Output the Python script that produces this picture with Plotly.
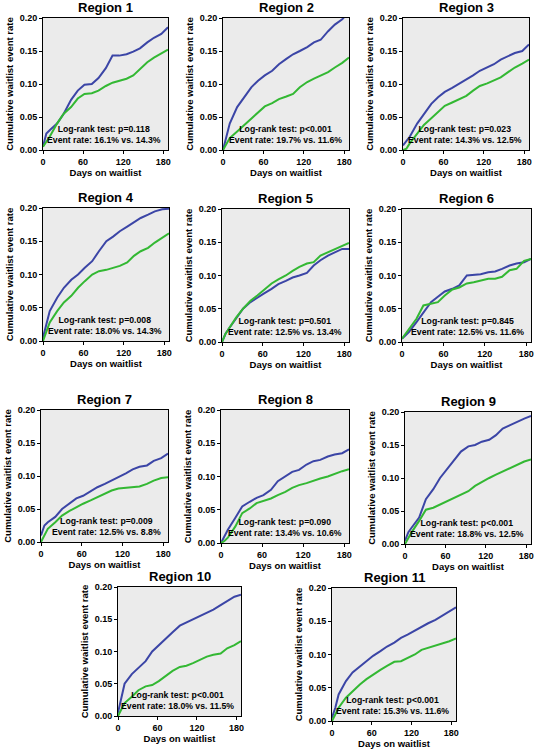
import plotly.graph_objects as go

DAYS = [0, 5, 10, 21, 31, 42, 52, 62, 73, 83, 94, 104, 114, 125, 135, 145, 156, 166, 177, 187]

REGIONS = ["Region 1", "Region 2", "Region 3", "Region 4", "Region 5", "Region 6",
           "Region 7", "Region 8", "Region 9", "Region 10", "Region 11"]

BLUE = [
    [0.005, 0.025, 0.030, 0.040, 0.055, 0.076, 0.090, 0.099, 0.100, 0.109, 0.124, 0.143, 0.143, 0.145, 0.149, 0.154, 0.163, 0.170, 0.176, 0.186],
    [0.000, 0.020, 0.040, 0.065, 0.080, 0.095, 0.105, 0.113, 0.120, 0.130, 0.138, 0.145, 0.150, 0.156, 0.163, 0.167, 0.180, 0.190, 0.198, 0.210],
    [0.007, 0.013, 0.020, 0.040, 0.055, 0.070, 0.080, 0.088, 0.094, 0.100, 0.107, 0.113, 0.120, 0.125, 0.130, 0.137, 0.142, 0.147, 0.150, 0.160],
    [0.005, 0.025, 0.045, 0.065, 0.080, 0.092, 0.100, 0.110, 0.120, 0.135, 0.150, 0.157, 0.165, 0.172, 0.178, 0.185, 0.190, 0.195, 0.198, 0.199],
    [0.000, 0.012, 0.020, 0.035, 0.050, 0.060, 0.067, 0.073, 0.080, 0.087, 0.092, 0.097, 0.100, 0.104, 0.115, 0.123, 0.130, 0.135, 0.140, 0.140],
    [0.005, 0.010, 0.015, 0.030, 0.045, 0.060, 0.068, 0.076, 0.080, 0.085, 0.100, 0.101, 0.102, 0.105, 0.106, 0.110, 0.115, 0.118, 0.120, 0.125],
    [0.010, 0.025, 0.030, 0.038, 0.050, 0.058, 0.066, 0.070, 0.077, 0.083, 0.088, 0.093, 0.098, 0.104, 0.110, 0.114, 0.116, 0.123, 0.127, 0.134],
    [0.000, 0.010, 0.020, 0.038, 0.055, 0.062, 0.068, 0.072, 0.080, 0.093, 0.100, 0.107, 0.110, 0.118, 0.123, 0.125, 0.130, 0.133, 0.135, 0.141],
    [0.005, 0.018, 0.025, 0.040, 0.068, 0.083, 0.100, 0.113, 0.127, 0.140, 0.148, 0.150, 0.155, 0.158, 0.165, 0.175, 0.180, 0.185, 0.190, 0.194],
    [0.005, 0.030, 0.050, 0.065, 0.075, 0.085, 0.100, 0.110, 0.120, 0.130, 0.140, 0.145, 0.150, 0.155, 0.160, 0.165, 0.172, 0.178, 0.185, 0.188],
    [0.005, 0.020, 0.040, 0.060, 0.073, 0.082, 0.090, 0.098, 0.105, 0.112, 0.118, 0.125, 0.130, 0.136, 0.142, 0.147, 0.152, 0.158, 0.165, 0.171],
]

GREEN = [
    [0.005, 0.012, 0.020, 0.040, 0.055, 0.065, 0.078, 0.085, 0.086, 0.090, 0.097, 0.102, 0.105, 0.108, 0.113, 0.122, 0.133, 0.140, 0.146, 0.152],
    [0.000, 0.010, 0.018, 0.028, 0.037, 0.048, 0.057, 0.066, 0.071, 0.077, 0.081, 0.085, 0.095, 0.103, 0.108, 0.113, 0.118, 0.125, 0.132, 0.140],
    [0.000, 0.002, 0.010, 0.025, 0.038, 0.048, 0.058, 0.067, 0.072, 0.077, 0.082, 0.090, 0.097, 0.101, 0.105, 0.110, 0.118, 0.125, 0.131, 0.137],
    [0.000, 0.015, 0.028, 0.045, 0.058, 0.068, 0.080, 0.090, 0.100, 0.105, 0.107, 0.110, 0.113, 0.118, 0.128, 0.135, 0.140, 0.148, 0.155, 0.162],
    [0.000, 0.012, 0.020, 0.037, 0.050, 0.062, 0.070, 0.078, 0.088, 0.094, 0.100, 0.107, 0.113, 0.118, 0.120, 0.130, 0.135, 0.140, 0.145, 0.149],
    [0.005, 0.012, 0.020, 0.035, 0.055, 0.058, 0.060, 0.070, 0.079, 0.082, 0.088, 0.090, 0.092, 0.095, 0.095, 0.098, 0.108, 0.110, 0.122, 0.125],
    [0.000, 0.010, 0.020, 0.030, 0.040, 0.047, 0.053, 0.058, 0.063, 0.068, 0.073, 0.078, 0.081, 0.082, 0.082, 0.084, 0.088, 0.093, 0.097, 0.098],
    [0.000, 0.003, 0.008, 0.025, 0.045, 0.052, 0.060, 0.063, 0.067, 0.072, 0.077, 0.083, 0.087, 0.090, 0.094, 0.097, 0.100, 0.104, 0.108, 0.111],
    [0.000, 0.010, 0.018, 0.035, 0.052, 0.055, 0.060, 0.065, 0.070, 0.075, 0.080, 0.088, 0.094, 0.100, 0.105, 0.110, 0.115, 0.120, 0.125, 0.128],
    [0.000, 0.010, 0.020, 0.030, 0.040, 0.046, 0.048, 0.054, 0.062, 0.070, 0.076, 0.078, 0.082, 0.087, 0.092, 0.095, 0.097, 0.105, 0.110, 0.116],
    [0.000, 0.010, 0.020, 0.035, 0.045, 0.055, 0.063, 0.070, 0.077, 0.083, 0.089, 0.090, 0.095, 0.100, 0.107, 0.110, 0.113, 0.117, 0.120, 0.124],
]

PVALUES = ["p=0.118", "p<0.001", "p=0.023", "p=0.008", "p=0.501", "p=0.845",
           "p=0.009", "p=0.090", "p<0.001", "p<0.001", "p<0.001"]
RATES = [("16.1%", "14.3%"), ("19.7%", "11.6%"), ("14.3%", "12.5%"), ("18.0%", "14.3%"),
         ("12.5%", "13.4%"), ("12.5%", "11.6%"), ("12.5%", "8.8%"), ("13.4%", "10.6%"),
         ("18.8%", "12.5%"), ("18.0%", "11.5%"), ("15.3%", "11.6%")]

X_TICKS = [0, 60, 120, 180]
Y_TICKS = [0.00, 0.05, 0.10, 0.15, 0.20]

# panel boxes in page pixels: left, right, top, bottom
BOXES = [
    (43, 168, 18, 150), (223, 349, 18, 150), (403, 529, 18, 150),
    (43, 169, 208, 341), (222, 349, 209, 342), (402, 531, 209, 342),
    (41, 168, 410, 542), (221, 349, 410, 543), (405, 531, 412, 544),
    (118, 241, 587, 716), (332, 456, 588, 721),
]

W, H = 537, 750
BLUE_C = "#3B45A6"
GREEN_C = "#33B833"
FONT = "Liberation Sans, Arial, sans-serif"

fig = go.Figure()
layout = {}
annotations = []
for i, name in enumerate(REGIONS):
    k = i + 1
    xs = "" if k == 1 else str(k)
    l, r, t, b = BOXES[i]
    fig.add_trace(go.Scatter(x=DAYS, y=BLUE[i], mode="lines", line=dict(color=BLUE_C, width=2),
                             xaxis="x" + xs, yaxis="y" + xs, showlegend=False))
    fig.add_trace(go.Scatter(x=DAYS, y=GREEN[i], mode="lines", line=dict(color=GREEN_C, width=2),
                             xaxis="x" + xs, yaxis="y" + xs, showlegend=False))
    layout["xaxis" + xs] = dict(
        domain=[l / W, r / W], anchor="y" + xs, range=[0, 187], tickvals=X_TICKS,
        showline=True, mirror=True, linecolor="black", linewidth=1,
        ticks="outside", ticklen=3, tickcolor="black", showgrid=False, zeroline=False,
        tickfont=dict(family=FONT, size=9, color="black", weight="bold"),
        title=dict(text="Days on waitlist", standoff=2,
                   font=dict(family=FONT, size=9.5, color="black", weight="bold")),
        automargin=False,
    )
    layout["yaxis" + xs] = dict(
        domain=[1 - b / H, 1 - t / H], anchor="x" + xs, range=[0, 0.2], tickvals=Y_TICKS,
        tickformat=".2f",
        showline=True, mirror=True, linecolor="black", linewidth=1,
        ticks="outside", ticklen=3, tickcolor="black", showgrid=False, zeroline=False,
        tickfont=dict(family=FONT, size=9, color="black", weight="bold"),
        title=dict(text="Cumulative waitlist event rate", standoff=4,
                   font=dict(family=FONT, size=9.5, color="black", weight="bold")),
        automargin=False,
    )
    annotations.append(dict(
        text=name, xref="x" + xs + " domain", yref="y" + xs + " domain",
        x=0.5, y=1, xanchor="center", yanchor="bottom", yshift=1, showarrow=False,
        font=dict(family=FONT, size=13, color="black", weight="bold"),
    ))
    annotations.append(dict(
        text="Log-rank test: " + PVALUES[i] + "<br>Event rate: " + RATES[i][0] + " vs. " + RATES[i][1],
        xref="x" + xs + " domain", yref="y" + xs + " domain",
        x=0.96, y=0.02, xanchor="right", yanchor="bottom", align="center", showarrow=False,
        font=dict(family=FONT, size=8.7, color="black", weight="bold"),
    ))

fig.update_layout(
    **layout,
    annotations=annotations,
    width=W, height=H,
    margin=dict(l=0, r=0, t=0, b=0),
    paper_bgcolor="white",
    plot_bgcolor="#EBEBEB",
    showlegend=False,
)

fig.write_html("out.html", config={"displayModeBar": False},
               post_script="document.body.style.margin='0px';")
